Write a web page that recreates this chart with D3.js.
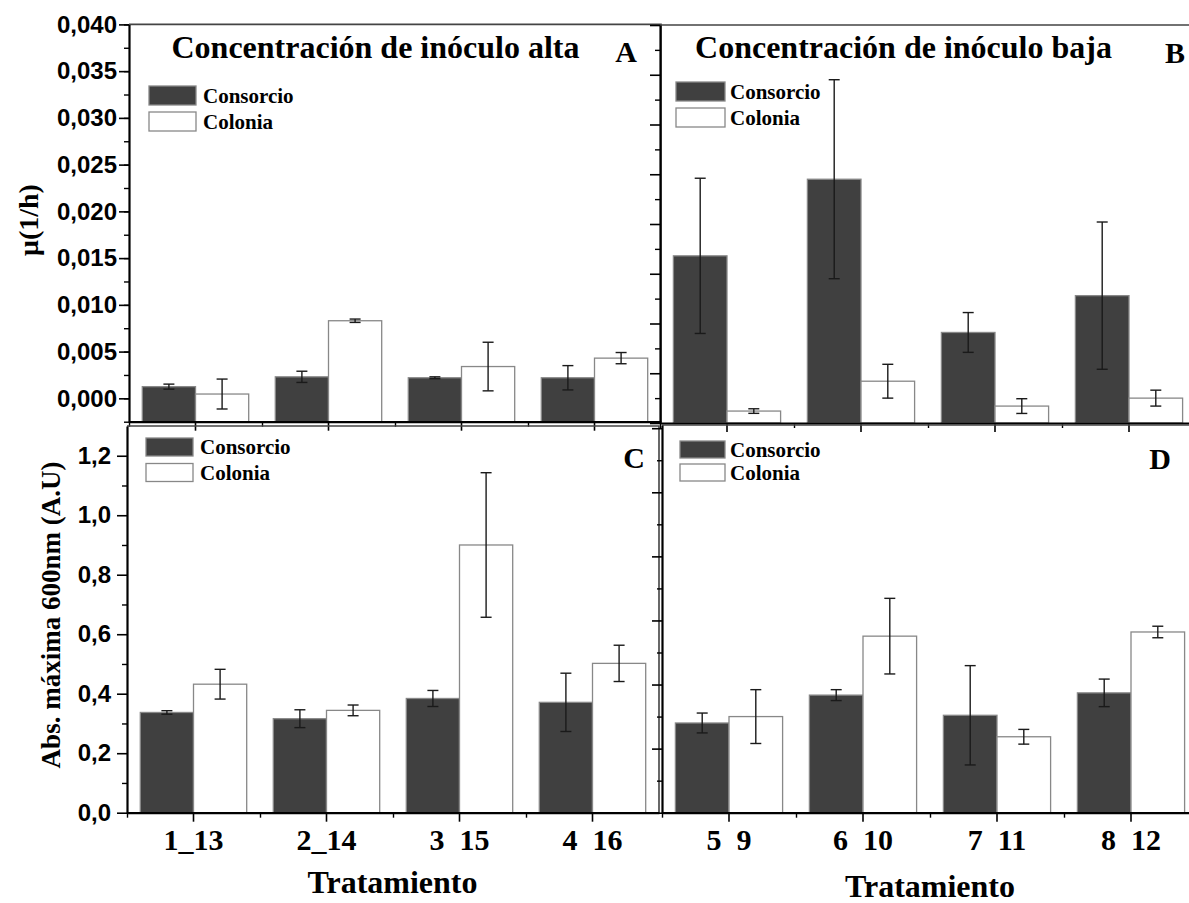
<!DOCTYPE html>
<html><head><meta charset="utf-8">
<script src="https://cdn.jsdelivr.net/npm/d3@7"></script>
<style>body{margin:0;background:#fff} svg{display:block}</style>
</head><body>
<svg id="chart" width="1189" height="903"></svg>
<script>
// ---------- data ----------
const series = ["Consorcio", "Colonia"];
const catsLeft = ["1_13", "2_14", "3_15", "4_16"];
const catsLeftLabels = ["1_13", "2_14", "3\u00a0\u00a015", "4\u00a0\u00a016"];
const catsRight = ["5_9", "6_10", "7_11", "8_12"];
const catsRightLabels = ["5\u00a0\u00a09", "6\u00a0\u00a010", "7\u00a0\u00a011", "8\u00a0\u00a012"];

// Panel A: mu (1/h), high inoculum
const muConsorcioA = [0.00125, 0.0023, 0.0022, 0.0022];
const muConsorcioAErr = [0.00027, 0.0006, 0.0001, 0.0013];
const muColoniaA = [0.00046, 0.0083, 0.0034, 0.0043];
const muColoniaAErr = [0.0016, 0.00018, 0.0026, 0.0006];
// Panel B: mu (1/h), low inoculum
const muConsorcioB = [0.0143, 0.0220, 0.0066, 0.0103];
const muConsorcioBErr = [0.0078, 0.0100, 0.0020, 0.0074];
const muColoniaB = [-0.0013, 0.0017, -0.0008, 0.0000];
const muColoniaBErr = [0.00023, 0.0017, 0.00074, 0.0008];
// Panel C: max absorbance 600nm, high inoculum
const absConsorcioC = [0.337, 0.316, 0.384, 0.371];
const absConsorcioCErr = [0.006, 0.030, 0.027, 0.098];
const absColoniaC = [0.432, 0.344, 0.900, 0.502];
const absColoniaCErr = [0.050, 0.018, 0.243, 0.061];
// Panel D: max absorbance 600nm, low inoculum
const absConsorcioD = [0.280, 0.367, 0.304, 0.374];
const absConsorcioDErr = [0.031, 0.017, 0.155, 0.043];
const absColoniaD = [0.300, 0.551, 0.237, 0.564];
const absColoniaDErr = [0.084, 0.118, 0.023, 0.018];

// tick values
const muTicksMajor = [0, 0.005, 0.010, 0.015, 0.020, 0.025, 0.030, 0.035, 0.040];
const muTicksMinor = d3.range(-0.0025, 0.0401, 0.0025);
const muBTicksMajor = d3.range(-0.0025, 0.0376, 0.005);
const muBTicksMinor = d3.range(0, 0.0376, 0.005);
const absTicksMajor = [0, 0.2, 0.4, 0.6, 0.8, 1.0, 1.2];
const absTicksMinor = d3.range(0.1, 1.25, 0.2);

const SERIF = "'Liberation Serif','Times New Roman',serif";
const SANS = "'Liberation Sans',Arial,sans-serif";
const DARK = "#404040";

const svg = d3.select("#chart");
const commaFmt = f => d => d3.format(f)(d).replace(".", ",");

function panel(p) {
  const g = svg.append("g");
  const x = d3.scaleBand().domain(p.cats).range(p.xr).paddingInner(0.2).paddingOuter(0.1);
  const xs = d3.scaleBand().domain(series).range([0, x.bandwidth()]);
  const y = d3.scaleLinear().domain(p.yd).range(p.yr);
  const yBase = y(p.yd[0]);
  const rows = p.cats.map((c, i) => ({
    c, vals: [
      { s: "Consorcio", v: p.cons[i], e: p.consErr[i] },
      { s: "Colonia", v: p.col[i], e: p.colErr[i] }
    ]
  }));

  // frame (top + right)
  g.append("path")
    .attr("d", `M${p.xr[0]},${p.yr[1]}H${p.xr[1]}V${p.yr[0]}`)
    .attr("fill", "none").attr("stroke", "#444").attr("stroke-width", 1.6);

  const grp = g.selectAll(".cat").data(rows).join("g")
    .attr("transform", d => `translate(${x(d.c)},0)`);
  grp.selectAll("rect").data(d => d.vals).join("rect")
    .attr("x", d => xs(d.s)).attr("width", xs.bandwidth())
    .attr("y", d => y(d.v)).attr("height", d => yBase - y(d.v))
    .attr("fill", d => d.s === "Consorcio" ? DARK : "#fff")
    .attr("stroke", "#888").attr("stroke-width", 1.3);

  const eb = grp.selectAll("g.err").data(d => d.vals).join("g").attr("class", "err")
    .attr("stroke", "#1a1a1a").attr("stroke-width", 1.4);
  const cx = d => xs(d.s) + xs.bandwidth() / 2;
  eb.append("line").attr("x1", cx).attr("x2", cx)
    .attr("y1", d => y(d.v - d.e)).attr("y2", d => y(d.v + d.e));
  eb.append("line").attr("x1", d => cx(d) - 5.5).attr("x2", d => cx(d) + 5.5)
    .attr("y1", d => y(d.v + d.e)).attr("y2", d => y(d.v + d.e));
  eb.append("line").attr("x1", d => cx(d) - 5.5).attr("x2", d => cx(d) + 5.5)
    .attr("y1", d => y(d.v - d.e)).attr("y2", d => y(d.v - d.e));

  // y axis
  const yMaj = g.append("g").attr("transform", `translate(${p.xr[0]},0)`)
    .call(d3.axisLeft(y).tickValues(p.yMajor).tickSize(10).tickSizeOuter(0)
      .tickPadding(p.yPad || 2).tickFormat(p.yFmt || (() => "")));
  yMaj.select(".domain").attr("stroke", "#000").attr("stroke-width", 2.2);
  yMaj.selectAll(".tick line").attr("stroke", "#000").attr("stroke-width", 1.6);
  yMaj.selectAll("text").attr("font-family", SANS).attr("font-weight", "bold")
    .attr("font-size", 24).attr("fill", "#000");
  const yMin = g.append("g").attr("transform", `translate(${p.xr[0]},0)`)
    .call(d3.axisLeft(y).tickValues(p.yMinor).tickSize(5).tickFormat(""));
  yMin.select(".domain").remove();
  yMin.selectAll(".tick line").attr("stroke", "#000").attr("stroke-width", 1.4);

  // x axis
  const labels = p.xLabels;
  const xMaj = g.append("g").attr("transform", `translate(0,${yBase})`)
    .call(d3.axisBottom(x).tickSize(9).tickSizeOuter(0)
      .tickFormat((d, i) => labels ? labels[i] : ""));
  xMaj.select(".domain").attr("stroke", "#000").attr("stroke-width", 2.2);
  xMaj.selectAll(".tick line").attr("stroke", "#000").attr("stroke-width", 1.6);
  xMaj.selectAll("text").attr("font-family", SERIF).attr("font-weight", "bold")
    .attr("font-size", 30).attr("fill", "#000").attr("dy", null).attr("y", 37);
  const xl = d3.scaleLinear().domain([0, p.cats.length]).range(p.xr);
  const xMin = g.append("g").attr("transform", `translate(0,${yBase})`)
    .call(d3.axisBottom(xl).tickValues(d3.range(0, p.cats.length)).tickSize(5).tickFormat(""));
  xMin.select(".domain").remove();
  xMin.selectAll(".tick line").attr("stroke", "#000").attr("stroke-width", 1.4);

  // legend
  const L = p.legend;
  series.forEach((s, i) => {
    g.append("rect").attr("x", L.x).attr("y", L.y + i * L.dy).attr("width", L.w).attr("height", L.h)
      .attr("fill", s === "Consorcio" ? DARK : "#fff").attr("stroke", "#888").attr("stroke-width", 1.3);
    g.append("text").attr("x", L.tx).attr("y", L.ty + i * L.dy)
      .attr("font-family", SERIF).attr("font-weight", "bold").attr("font-size", 21)
      .text(s);
  });

  // panel letter
  g.append("text").attr("x", p.letter[0]).attr("y", p.letter[1]).attr("text-anchor", "middle")
    .attr("font-family", SERIF).attr("font-weight", "bold").attr("font-size", 30).text(p.id);
  if (p.title) {
    g.append("text").attr("x", p.title[0]).attr("y", p.title[1]).attr("text-anchor", "middle")
      .attr("font-family", SERIF).attr("font-weight", "bold").attr("font-size", 32).text(p.title[2]);
  }
  if (p.xTitle) {
    g.append("text").attr("x", p.xTitle[0]).attr("y", p.xTitle[1]).attr("text-anchor", "middle")
      .attr("font-family", SERIF).attr("font-weight", "bold").attr("font-size", 32).text("Tratamiento");
  }
}

panel({
  id: "A", cats: catsLeft, cons: muConsorcioA, consErr: muConsorcioAErr, col: muColoniaA, colErr: muColoniaAErr,
  xr: [129, 661], yr: [421.7, 24.4], yd: [-0.0025, 0.040],
  yMajor: muTicksMajor, yMinor: muTicksMinor, yFmt: commaFmt(".3f"), yPad: 2,
  legend: { x: 149, y: 86, w: 47, h: 19, dy: 26, tx: 203, ty: 103 },
  letter: [626, 62], title: [375.5, 58, "Concentración de inóculo alta"]
});
panel({
  id: "B", cats: catsRight, cons: muConsorcioB, consErr: muConsorcioBErr, col: muColoniaB, colErr: muColoniaBErr,
  xr: [660, 1196], yr: [423, 25], yd: [-0.0025, 0.0375],
  yMajor: muBTicksMajor, yMinor: muBTicksMinor,
  legend: { x: 676, y: 82, w: 49, h: 19, dy: 26, tx: 730, ty: 99 },
  letter: [1175, 63], title: [903.5, 58, "Concentración de inóculo baja"]
});
panel({
  id: "C", cats: catsLeft, cons: absConsorcioC, consErr: absConsorcioCErr, col: absColoniaC, colErr: absColoniaCErr,
  xr: [127, 659], yr: [812.7, 426], yd: [0, 1.3],
  yMajor: absTicksMajor, yMinor: absTicksMinor, yFmt: commaFmt(".1f"), yPad: 6,
  xLabels: catsLeftLabels,
  legend: { x: 146, y: 438, w: 47, h: 18, dy: 25.5, tx: 200, ty: 454 },
  letter: [634, 468], xTitle: [392.5, 893]
});
panel({
  id: "D", cats: catsRight, cons: absConsorcioD, consErr: absConsorcioDErr, col: absColoniaD, colErr: absColoniaDErr,
  xr: [662, 1198], yr: [812.7, 425], yd: [0, 1.21],
  yMajor: absTicksMajor, yMinor: absTicksMinor,
  xLabels: catsRightLabels,
  legend: { x: 680, y: 441, w: 45, h: 17, dy: 23, tx: 730, ty: 457 },
  letter: [1160, 469], xTitle: [930, 897]
});

// y axis titles
svg.append("text").attr("transform", "translate(38,220) rotate(-90)").attr("text-anchor", "middle")
  .attr("font-family", SERIF).attr("font-weight", "bold").attr("font-size", 28).text("μ(1/h)");
svg.append("text").attr("transform", "translate(60,615) rotate(-90)").attr("text-anchor", "middle")
  .attr("font-family", SERIF).attr("font-weight", "bold").attr("font-size", 27).text("Abs. máxima 600nm (A.U)");
</script>
</body></html>
